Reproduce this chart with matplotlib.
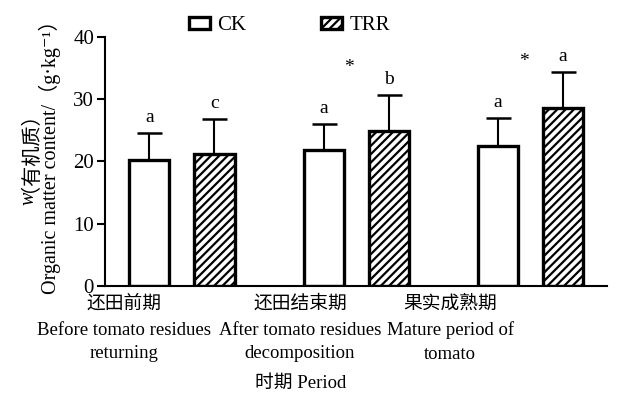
import numpy as np
from matplotlib import pyplot as plt

plt.rcParams['font.family'] = ['Liberation Serif', 'Noto Sans CJK SC', 'DejaVu Serif']
plt.rcParams['hatch.linewidth'] = 1.6

# data
periods_cn = ['还田前期', '还田结束期', '果实成熟期']
periods_en = ['Before tomato residues\nreturning',
              'After tomato residues\ndecomposition',
              'Mature period of\ntomato']
ck_mean = [20.2, 21.8, 22.5]
ck_err = [4.4, 4.2, 4.5]
trr_mean = [21.2, 24.9, 28.6]
trr_err = [5.6, 5.8, 5.8]
ck_letters = ['a', 'a', 'a']
trr_letters = ['c', 'b', 'a']
star = ['', '*', '*']
star_y = [0, 35.0, 36.0]

fig, ax = plt.subplots(figsize=(6.26, 4.0), dpi=100)
fig.subplots_adjust(left=0.168, right=0.97, bottom=0.285, top=0.908)

x = np.arange(len(ck_mean))
w = 0.23
off = 0.187

ax.bar(x - off, ck_mean, w, color='white', edgecolor='black', linewidth=2.4,
       label='CK', zorder=2)
ax.bar(x + off, trr_mean, w, color='white', edgecolor='black', linewidth=2.4,
       hatch='////', label='TRR', zorder=2)
ax.errorbar(x - off, ck_mean, yerr=[np.zeros(3), ck_err], fmt='none', ecolor='black',
            elinewidth=1.5, capsize=9, capthick=1.8, zorder=1)
ax.errorbar(x + off, trr_mean, yerr=[np.zeros(3), trr_err], fmt='none', ecolor='black',
            elinewidth=1.5, capsize=9, capthick=1.8, zorder=1)

for i in range(3):
    ax.text(x[i] - off, ck_mean[i] + ck_err[i] + 1.1, ck_letters[i], ha='center',
            va='bottom', fontsize=14)
    ax.text(x[i] + off, trr_mean[i] + trr_err[i] + 1.1, trr_letters[i], ha='center',
            va='bottom', fontsize=14)
    if star[i]:
        ax.text(x[i] - 0.04, star_y[i], star[i], ha='center', va='center', fontsize=14)

ax.set_xlim(-0.44, 2.44)
ax.set_ylim(0, 40)
ax.set_yticks([0, 10, 20, 30, 40])
ax.tick_params(axis='y', direction='out', length=6, width=1.5, labelsize=15, pad=2)
ax.set_xticks([])
for s in ['top', 'right']:
    ax.spines[s].set_visible(False)
for s in ['left', 'bottom']:
    ax.spines[s].set_linewidth(1.5)

# category labels sit a bit left of the bar pairs
lab_x = [-0.33, 0.678, 1.54]
for i in range(3):
    ax.text(lab_x[i], -1.5, periods_cn[i], ha='center', va='top', fontsize=13.5)
    ax.text(lab_x[i], -5.7, periods_en[i], ha='center', va='top', fontsize=13.5,
            linespacing=1.5)

fig.text(0.48, 0.02, '时期 Period', ha='center', va='bottom', fontsize=13.5)

# y label: two rotated lines, italic w drawn on its own
fig.text(0.047, 0.52, 'w', rotation=90, ha='center', va='top', fontsize=14.5,
         style='italic')
fig.text(0.033, 0.52, '（有机质）', rotation=90, ha='center', va='bottom',
         fontsize=14.5)
fig.text(0.08, 0.62, 'Organic matter content/（g·kg⁻¹）', rotation=90,
         ha='center', va='center', fontsize=14.5)

ax.legend(loc='lower center', bbox_to_anchor=(0.367, 0.965), ncol=2, frameon=False,
          fontsize=15, handlelength=1.0, handleheight=0.5, columnspacing=3.6,
          handletextpad=0.35, borderpad=0)

plt.savefig('out.png', dpi=100)
plt.close()
